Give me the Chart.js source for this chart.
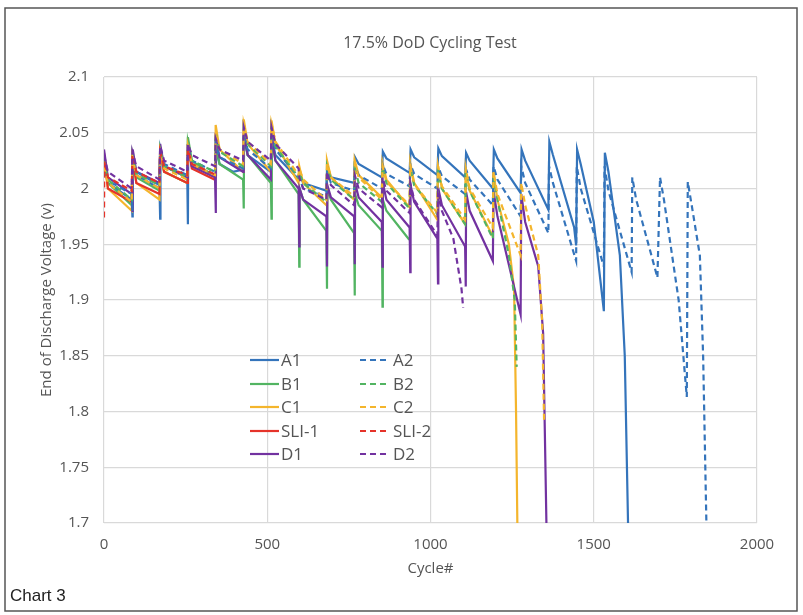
<!DOCTYPE html>
<html>
<head>
<meta charset="utf-8">
<script src="https://cdn.jsdelivr.net/npm/chart.js@4.4.1/dist/chart.umd.min.js"></script>
<style>
  html, body { margin: 0; padding: 0; background: #fff; }
  #wrap { position: relative; width: 803px; height: 615px; }
</style>
</head>
<body>
<div id="wrap"><canvas id="cycleChart" width="803" height="615"></canvas></div>
<script>
// axis ticks
const xTicks = [0, 500, 1000, 1500, 2000];
const yTicks = [1.7, 1.75, 1.8, 1.85, 1.9, 1.95, 2, 2.05, 2.1];

// [cycle, end of discharge voltage]
const A1 = [[0,2.015],[1,2.022],[12,2.005],[85,1.99],
  [87,1.975],[88,2.03],[99,2.012],[170,2.0],
  [172,1.973],[173,2.035],[184,2.02],[255,2.01],
  [257,1.968],[258,2.04],[269,2.022],[340,2.012],
  [343,2.035],[354,2.022],[395,2.015],[426,2.017],
  [429,2.045],[440,2.03],[511,2.015],
  [514,2.045],[525,2.03],[596,2.008],
  [599,2.012],[610,2.005],[681,1.998],
  [684,2.02],[695,2.01],[766,2.005],
  [769,2.028],[780,2.022],[851,2.01],
  [854,2.033],[865,2.027],[936,2.014],
  [939,2.035],[950,2.028],[1021,2.012],
  [1024,2.036],[1035,2.029],[1106,2.01],
  [1109,2.032],[1120,2.025],[1191,2.0],
  [1194,2.035],[1205,2.027],[1276,1.996],
  [1279,2.035],[1290,2.025],[1361,1.981],
  [1364,2.042],[1375,2.03],[1440,1.965],[1446,1.949],
  [1449,2.035],[1460,2.022],[1500,1.97],[1531,1.89],
  [1534,2.032],[1545,2.015],[1580,1.94],[1595,1.85],[1605,1.7]];

const A2 = [[0,2.01],[1,2.02],[12,2.007],[85,1.995],
  [87,1.98],[88,2.028],[99,2.015],[170,2.003],
  [172,2.033],[184,2.022],[255,2.012],
  [257,2.038],[269,2.025],[340,2.015],
  [342,2.04],[354,2.028],[426,2.018],
  [428,2.048],[440,2.035],[511,2.018],
  [513,2.05],[525,2.035],[596,2.01],
  [598,2.01],[610,2.0],[681,1.993],
  [683,2.015],[695,2.005],[766,1.998],
  [768,2.02],[780,2.012],[851,2.0],
  [853,2.022],[865,2.013],[936,2.002],
  [938,2.022],[950,2.013],[1021,2.0],
  [1023,2.02],[1035,2.011],[1106,1.995],
  [1108,2.018],[1120,2.008],[1191,1.985],
  [1193,2.02],[1205,2.008],[1276,1.975],
  [1278,2.02],[1290,2.005],[1361,1.96],
  [1363,2.02],[1375,2.005],[1446,1.935],
  [1448,2.02],[1460,2.0],[1531,1.93],
  [1533,2.02],[1545,1.998],[1616,1.925],
  [1618,2.01],[1630,1.99],[1672,1.945],[1695,1.92],
  [1703,2.01],[1715,1.99],[1760,1.9],[1785,1.813],
  [1788,2.006],[1800,1.985],[1825,1.94],[1835,1.85],[1845,1.7]];

const B1 = [[0,2.02],[1,2.028],[12,2.005],[85,1.985],
  [87,2.03],[99,2.01],[170,1.998],
  [172,2.035],[184,2.015],[255,2.005],
  [257,2.046],[269,2.025],[340,2.01],
  [342,2.04],[354,2.022],[426,2.008],
  [428,1.982],[429,2.05],[440,2.03],[511,2.005],
  [513,1.973],[514,2.045],[525,2.025],[596,1.995],
  [598,1.93],[599,2.0],[610,1.99],[681,1.962],
  [683,1.91],[684,2.0],[695,1.99],[766,1.96],
  [768,1.904],[769,1.995],[780,1.985],[851,1.962],
  [853,1.894],[854,1.99],[865,1.98],[935,1.954]];

const B2 = [[0,2.025],[12,2.008],[85,1.99],
  [87,2.03],[99,2.013],[170,2.003],
  [172,2.035],[184,2.02],[255,2.01],
  [257,2.042],[269,2.025],[340,2.015],
  [342,2.05],[354,2.033],[426,2.02],
  [428,2.055],[440,2.04],[511,2.02],
  [513,2.055],[525,2.038],[596,2.01],
  [598,2.015],[610,2.005],[681,1.988],
  [683,2.02],[695,2.008],[766,1.99],
  [768,2.018],[780,2.005],[851,1.988],
  [853,2.018],[865,2.005],[936,1.982],
  [938,2.018],[950,2.003],[1021,1.977],
  [1023,2.015],[1035,2.0],[1106,1.968],
  [1108,2.015],[1120,1.998],[1191,1.955],
  [1193,2.01],[1205,1.99],[1240,1.94],[1258,1.9],[1264,1.84]];

const C1 = [[0,2.018],[1,2.025],[12,2.0],[85,1.98],
  [87,2.03],[99,2.005],[170,1.99],
  [172,2.035],[184,2.015],[255,2.005],
  [257,2.04],[269,2.02],[340,2.01],
  [342,2.057],[354,2.035],[426,2.015],
  [428,2.062],[440,2.04],[511,2.015],
  [513,2.061],[525,2.04],[596,2.005],
  [598,2.02],[610,2.005],[681,1.985],
  [683,2.025],[695,2.01],[766,1.99],
  [768,2.025],[780,2.012],[851,1.992],
  [853,2.023],[865,2.008],[936,1.983],
  [938,2.023],[950,2.005],[1021,1.972],
  [1023,2.02],[1035,2.0],[1106,1.968],
  [1108,2.017],[1120,1.998],[1191,1.957],
  [1193,2.014],[1205,1.99],[1240,1.95],[1256,1.91],[1262,1.8],[1266,1.7]];

const C2 = [[0,2.02],[12,2.005],[85,1.988],
  [87,2.028],[99,2.012],[170,2.0],
  [172,2.033],[184,2.018],[255,2.008],
  [257,2.038],[269,2.022],[340,2.012],
  [342,2.05],[354,2.035],[426,2.022],
  [428,2.058],[440,2.042],[511,2.022],
  [513,2.058],[525,2.042],[596,2.012],
  [598,2.018],[610,2.008],[681,1.99],
  [683,2.022],[695,2.01],[766,1.993],
  [768,2.022],[780,2.01],[851,1.99],
  [853,2.02],[865,2.006],[936,1.985],
  [938,2.02],[950,2.004],[1021,1.978],
  [1023,2.02],[1035,2.002],[1106,1.972],
  [1108,2.018],[1120,2.0],[1191,1.965],
  [1193,2.015],[1205,1.995],[1276,1.94],
  [1278,2.005],[1290,1.985],[1330,1.94],[1342,1.88],[1348,1.79]];

const SLI1 = [[0,2.032],[12,2.0],[85,1.988],
  [87,2.03],[99,2.005],[170,1.995],
  [172,2.035],[184,2.015],[255,2.005],
  [257,2.04],[269,2.018],[338,2.008]];

const SLI2 = [[0,1.974],[1,2.025],[12,2.01],[85,1.998],
  [87,2.03],[99,2.015],[170,2.005],
  [172,2.033],[184,2.02],[255,2.012],
  [257,2.035],[269,2.022],[338,2.013]];

const D1 = [[0,2.035],[12,2.01],[85,1.995],
  [87,1.98],[88,2.035],[99,2.015],[170,2.005],
  [172,2.04],[184,2.02],[255,2.01],
  [257,2.04],[269,2.02],[340,2.01],
  [342,1.978],[343,2.045],[354,2.028],[426,2.015],
  [428,2.05],[440,2.03],[511,2.008],
  [513,2.048],[525,2.025],[596,2.0],
  [598,1.948],[599,2.0],[610,1.99],[681,1.975],
  [683,1.93],[684,2.003],[695,1.992],[766,1.975],
  [768,1.932],[769,2.005],[780,1.992],[851,1.97],
  [853,1.93],[854,2.005],[865,1.99],[936,1.965],
  [938,1.925],[939,2.003],[950,1.988],[1021,1.955],
  [1023,1.915],[1024,2.0],[1035,1.985],[1106,1.948],
  [1108,1.912],[1109,1.997],[1120,1.98],[1191,1.935],
  [1193,1.998],[1205,1.975],[1276,1.887],
  [1278,1.995],[1290,1.97],[1330,1.93],[1345,1.87],[1355,1.7]];

const D2 = [[0,2.03],[12,2.015],[85,2.0],
  [87,2.033],[99,2.02],[170,2.008],
  [172,2.038],[184,2.025],[255,2.015],
  [257,2.04],[269,2.03],[340,2.02],
  [342,2.045],[354,2.035],[426,2.025],
  [428,2.055],[440,2.042],[511,2.025],
  [513,2.055],[525,2.04],[596,2.018],
  [598,2.01],[610,2.0],[681,1.99],
  [683,2.015],[695,2.003],[766,1.985],
  [768,2.012],[780,2.0],[851,1.983],
  [853,2.01],[865,1.998],[936,1.978],
  [938,2.005],[950,1.99],[1021,1.958],
  [1023,1.995],[1035,1.98],[1070,1.955],[1095,1.91],[1100,1.893]];

const seriesNames = ['A1', 'B1', 'C1', 'SLI-1', 'D1', 'A2', 'B2', 'C2', 'SLI-2', 'D2'];
const seriesData = [A1, B1, C1, SLI1, D1, A2, B2, C2, SLI2, D2];
const seriesColors = ['#3474bb', '#52b462', '#f4b52c', '#e5332a', '#7232a0',
                      '#3474bb', '#52b462', '#f4b52c', '#e5332a', '#7232a0'];

const font = '"Open Sans", "Noto Sans", sans-serif';
const textGrey = '#555555';

const datasets = seriesData.map(function (d, i) {
  return {
    label: seriesNames[i],
    data: d,
    borderColor: seriesColors[i],
    backgroundColor: seriesColors[i],
    borderWidth: 2.2,
    borderDash: i >= 5 ? [6, 4] : [],
    pointRadius: 0,
    tension: 0,
    fill: false,
    order: 9 - i   // later series on top, like the original
  };
});

// title, framed box, y title, "Chart 3" caption and two-column legend
const decor = {
  id: 'decor',
  afterDraw(chart) {
    const ctx = chart.ctx;
    ctx.save();
    ctx.strokeStyle = '#555';
    ctx.lineWidth = 1.5;
    ctx.strokeRect(5, 8, 792, 603);

    ctx.fillStyle = textGrey;
    ctx.font = '16px ' + font;
    ctx.textAlign = 'center';
    ctx.textBaseline = 'middle';
    ctx.fillText('17.5% DoD Cycling Test', 430, 43);

    ctx.save();
    ctx.translate(47, 300);
    ctx.rotate(-Math.PI / 2);
    ctx.font = '15px ' + font;
    ctx.fillText('End of Discharge Voltage (v)', 0, 0);
    ctx.restore();

    ctx.fillStyle = '#222';
    ctx.font = '17px "Liberation Sans", Arial, sans-serif';
    ctx.textAlign = 'left';
    ctx.fillText('Chart 3', 10, 596);

    // legend
    const rows = [360, 384, 407, 431, 454];
    ctx.font = '17px ' + font;
    ctx.fillStyle = textGrey;
    for (let i = 0; i < 10; i++) {
      const col = i < 5 ? 0 : 1;
      const y = rows[i % 5];
      const x0 = col === 0 ? 250 : 360;
      const x1 = col === 0 ? 279 : 386;
      ctx.beginPath();
      ctx.strokeStyle = seriesColors[i];
      ctx.lineWidth = 2.2;
      ctx.setLineDash(col === 0 ? [] : [6, 4]);
      ctx.moveTo(x0, y);
      ctx.lineTo(x1, y);
      ctx.stroke();
      ctx.setLineDash([]);
      ctx.fillText(seriesNames[i], col === 0 ? 281 : 393, y + 1);
    }
    ctx.restore();
  }
};

new Chart(document.getElementById('cycleChart').getContext('2d'), {
  type: 'line',
  data: { datasets: datasets },
  options: {
    responsive: false,
    animation: false,
    layout: { padding: { left: 33, right: 46, top: 77, bottom: 34 } },
    plugins: { legend: { display: false }, tooltip: { enabled: false } },
    scales: {
      x: {
        type: 'linear',
        min: 0,
        max: 2000,
        afterBuildTicks: function (s) { s.ticks = xTicks.map(v => ({ value: v })); },
        afterFit: function (s) { s.height = 58; },
        grid: { color: '#d9d9d9', drawTicks: false, lineWidth: 1.2 },
        border: { display: false },
        ticks: {
          color: textGrey, font: { family: font, size: 15 }, padding: 13,
          callback: function (v) { return String(v); }
        },
        title: { display: true, text: 'Cycle#', color: textGrey, font: { family: font, size: 15 }, padding: { top: 0, bottom: 3 } }
      },
      y: {
        min: 1.7,
        max: 2.1,
        afterBuildTicks: function (s) { s.ticks = yTicks.map(v => ({ value: v })); },
        afterFit: function (s) { s.width = 71; },
        grid: { color: '#d9d9d9', drawTicks: false, lineWidth: 1.2 },
        border: { display: false },
        ticks: {
          color: textGrey, font: { family: font, size: 15 }, padding: 15,
          callback: function (v) { return String(Number(v.toFixed(2))); }
        }
      }
    }
  },
  plugins: [decor]
});
</script>
</body>
</html>
